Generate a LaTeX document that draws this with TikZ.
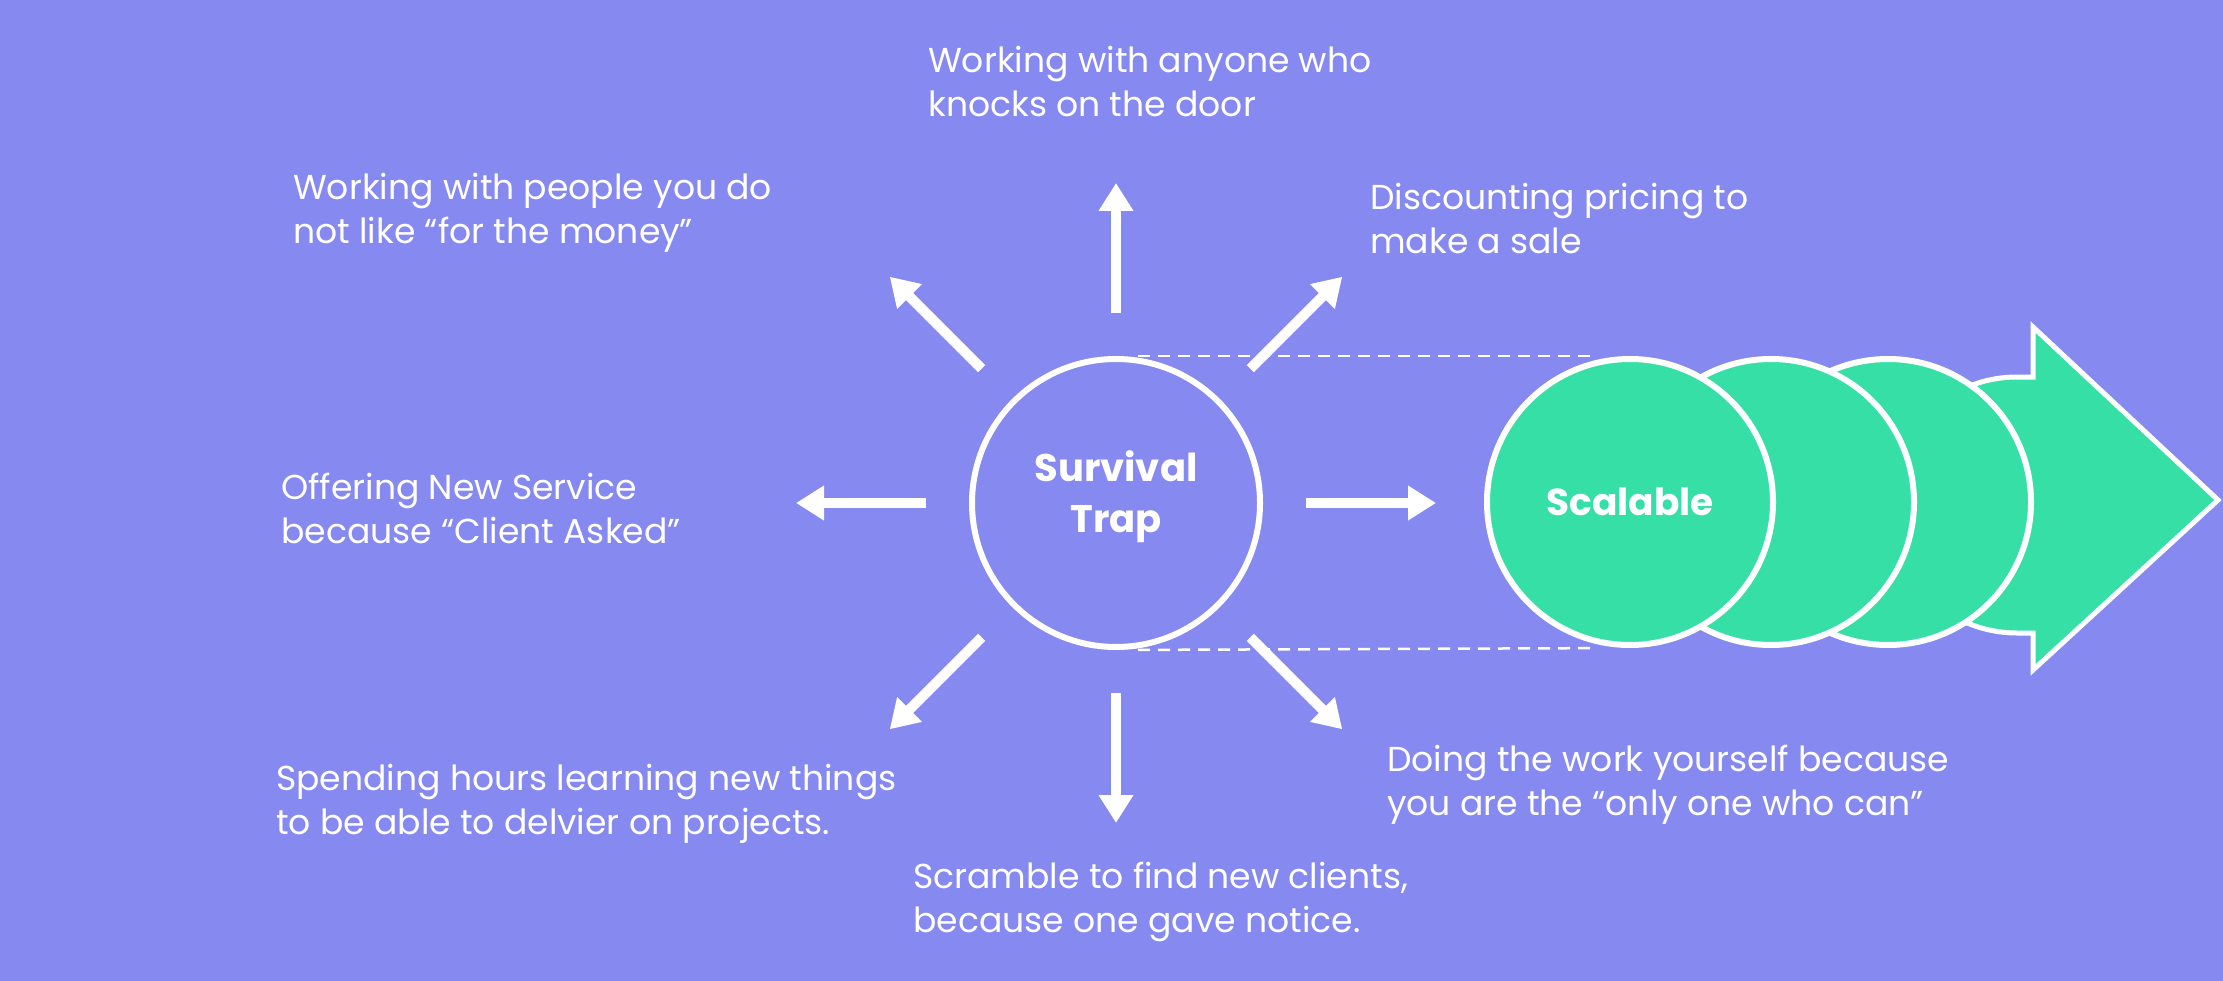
\documentclass[tikz,border=0pt]{standalone}
\usepackage{fontspec}
\setmainfont{Poppins}
\usepackage{tikz}
\usetikzlibrary{arrows.meta, positioning}
\definecolor{bgviolet}{RGB}{134, 137, 240}
\definecolor{mintgreen}{RGB}{54, 223, 166}

\begin{document}
\begin{tikzpicture}[
        x=1pt, y=-1pt,
        trapcircle/.style={circle, draw=white, line width=6pt, minimum size=288pt, inner sep=0pt},
        traplabel/.style={text=white, align=center, font=\fontsize{38.5}{51}\selectfont\bfseries},
        stage/.style={circle, draw=white, fill=mintgreen, line width=6pt, minimum size=286pt, inner sep=0pt, text=white, font=\fontsize{37.5}{45}\selectfont\bfseries},
        spoke/.style={-{Triangle[length=28pt, width=33pt]}, white, line width=10pt, shorten <=43pt},
        guide/.style={white, line width=2.5pt, dash pattern=on 12pt off 8pt, shorten <=22pt, shorten >=36pt},
        note/.style={text=white, font=\fontsize{34.6}{44}\selectfont, align=left, anchor=base west, inner sep=0pt}
    ]
        % background and page size
        \fill[bgviolet] (0,0) rectangle (2223,981);
        \useasboundingbox (0,0) rectangle (2223,981);

        \node[trapcircle] (trap) at (1116,503) {};
        \node[traplabel] (traptext) at (1116,497) {Survival\\Trap};

        % spokes
        \foreach \a in {0,45,...,315} {
            \path (trap.center) ++(\a:320) coordinate (tip\a);
            \draw[spoke] (trap) -- (tip\a);
        }

        % the scalable arrow, back to front
        \draw[white, line width=5pt, fill=mintgreen, line join=miter]
            (2017,377) -- (2033,377) -- (2033,327) -- (2218,500) -- (2033,670) -- (2033,633) -- (2017,633)
            arc[start angle=90, end angle=270, radius=128] -- cycle;
        \node[stage] (stage3) at (1888,502) {};
        \node[stage] (stage2) at (1771,502) {};
        \node[stage] (scal) at (1630,502) {Scalable};

        \draw[guide] (trap.north) -- (scal.north);
        \draw[guide] (trap.south) -- (scal.south);

        % labels (base = last line)
        \node[note] (anyone) at (928,117) {Working with anyone who\\knocks on the door};
        \node[note] (dislike) at (293,244) {Working with people you do\\not like “for the money”};
        \node[note] (discount) at (1370,254) {Discounting pricing to\\make a sale};
        \node[note] (newservice) at (281,543) {Offering New Service\\because “Client Asked”};
        \node[note] (learning) at (276,834) {Spending hours learning new things\\to be able to delvier on projects.};
        \node[note] (scramble) at (913,932) {Scramble to find new clients,\\because one gave notice.};
        \node[note] (yourself) at (1387,815) {Doing the work yourself because\\you are the “only one who can”};
\end{tikzpicture}
\end{document}
